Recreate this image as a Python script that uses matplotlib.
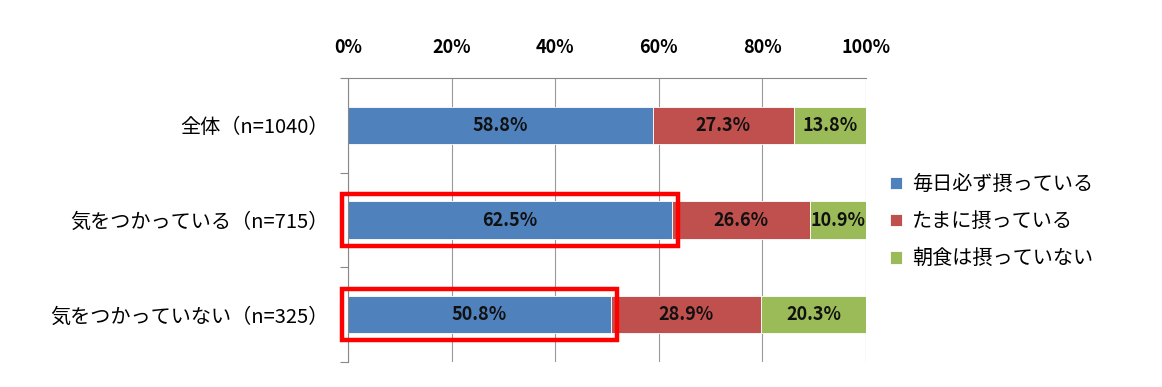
import matplotlib
matplotlib.use("Agg")
import matplotlib.pyplot as plt
from matplotlib.patches import Rectangle
import numpy as np

plt.rcParams['font.family'] = ['Noto Sans CJK JP', 'DejaVu Sans']

categories = ["全体（n=1040）", "気をつかっている（n=715）", "気をつかっていない（n=325）"]
series_names = ["毎日必ず摂っている", "たまに摂っている", "朝食は摂っていない"]
daily = [58.8, 62.5, 50.8]
sometimes = [27.3, 26.6, 28.9]
never = [13.8, 10.9, 20.3]
colors = ["#4F81BD", "#C0504D", "#9BBB59"]
highlight_rows = [1, 2]

fig = plt.figure(figsize=[11.62, 3.87], dpi=100)
ax = fig.add_axes([0.2995, 0.065, 0.4458, 0.733])

y = np.arange(len(categories))
left = np.zeros(len(categories))
handles = []
for vals, name, col in zip([daily, sometimes, never], series_names, colors):
    vals = np.array(vals)
    b = ax.barh(y, vals, left=left, height=0.4, color=col, edgecolor="white",
                linewidth=0.6, label=name)
    handles.append(b)
    for yi, l, v in zip(y, left, vals):
        ax.text(l + v / 2, yi, "%.1f%%" % v, ha="center", va="center",
                fontsize=13, fontweight="bold", color="#111111")
    left = left + vals

# red highlight boxes around the daily bars
for r in highlight_rows:
    ax.add_patch(Rectangle((-1.2, r - 0.27), daily[r] + 2.4, 0.54, fill=False,
                           edgecolor="#FF0000", linewidth=3.2, clip_on=False, zorder=5))

ax.set_xlim(0, 100)
ax.set_ylim(2.5, -0.5)
ax.xaxis.tick_top()
ax.set_xticks(range(0, 101, 20))
ax.set_xticklabels(["%d%%" % t for t in range(0, 101, 20)], fontsize=13, fontweight="bold")
ax.tick_params(axis="x", length=0, pad=15)
ax.set_yticks([-0.5, 0.5, 1.5, 2.5], minor=False)
ax.set_yticklabels([])
ax.tick_params(axis="y", length=6, color="#888888", direction="out")
ax.set_yticks(y, minor=True)
ax.set_yticklabels(categories, minor=True, fontsize=14.5)
ax.tick_params(axis="y", which="minor", length=0, pad=14)
ax.grid(axis="x", color="#999999", linewidth=0.8)
ax.set_axisbelow(True)
for s in ["right", "bottom"]:
    ax.spines[s].set_visible(False)
ax.spines["left"].set_color("#888888")
ax.spines["top"].set_color("#888888")

fig.legend(handles, series_names, loc="upper left", bbox_to_anchor=(0.75, 0.597),
           frameon=False, fontsize=14.5, handlelength=0.6, handleheight=0.6,
           handletextpad=0.5, labelspacing=0.8)

plt.savefig("out.png", dpi=100)
